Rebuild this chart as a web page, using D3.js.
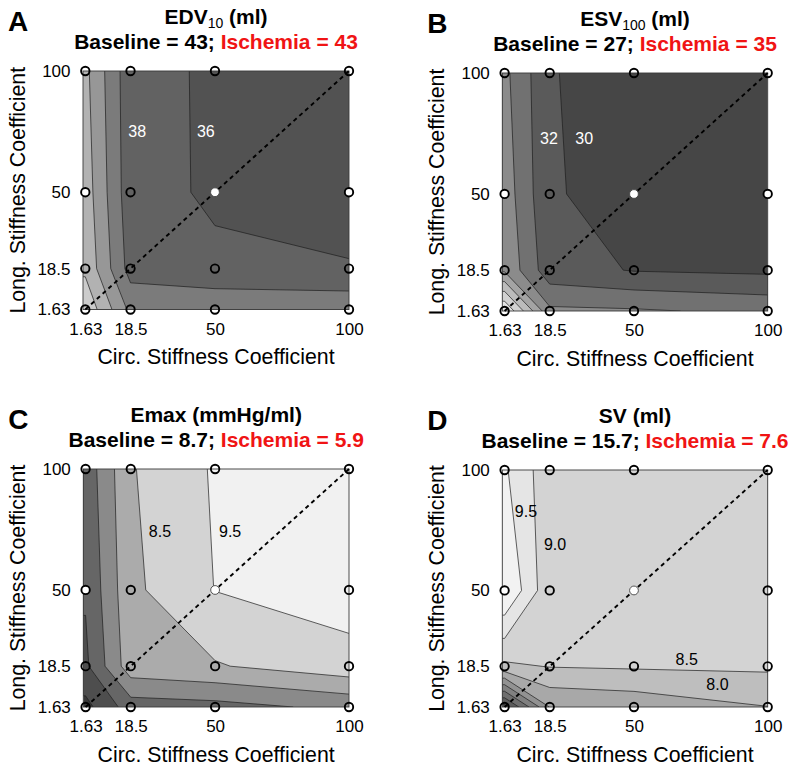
<!DOCTYPE html>
<html>
<head>
<meta charset="utf-8">
<script src="https://cdn.jsdelivr.net/npm/d3@7"></script>
<style>
  body { margin: 0; background: #fff; }
  svg { display: block; }
</style>
</head>
<body>
<svg id="chart" width="800" height="770"></svg>
<script>
// ---------------- DATA ----------------
const stiffness = [1.63, 18.5, 50, 100];
const tickLabels = ["1.63", "18.5", "50", "100"];

// grids: rows = Long. stiffness (1.63, 18.5, 50, 100); columns = Circ. stiffness (1.63, 18.5, 50, 100)
const edvGrid = [
  [45.6, 39.5, 39.7, 39.4],
  [43.6, 37.2, 36.36, 36.3],
  [43.07, 36.7, 35.72, 34.0],
  [42.52, 36.64, 35.72, 35.0]
];
const esvGrid = [
  [44.0, 34.4, 34.24, 33.55],
  [35.67, 30.76, 29.89, 29.6],
  [35.13, 30.2, 29.2, 28.3],
  [34.5, 30.2, 28.45, 28.0]
];
const emaxGrid = [
  [4.2, 6.0, 6.15, 6.75],
  [5.3, 8.09, 8.42, 9.13],
  [5.6, 8.28, 9.52, 9.99],
  [5.87, 8.42, 9.61, 10.1]
];
const svGrid = [
  [5.3, 7.52, 7.65, 7.99],
  [8.4, 8.52, 8.56, 8.585],
  [10.03, 8.62, 8.7, 8.75],
  [9.57, 8.67, 8.75, 8.8]
];

const edvLevels = [36, 38, 40, 42, 44];
const esvLevels = [30, 32, 34, 36, 38, 40, 42];
const emaxLevels = [4.5, 5.5, 6.5, 7.5, 8.5, 9.5];
const svLevels = [5.5, 6.0, 6.5, 7.0, 7.5, 8.0, 8.5, 9.0, 9.5];

const panelLetters = ["A", "B", "C", "D"];
const titleNames = ["EDV", "ESV", "Emax (mmHg/ml)", "SV (ml)"];
const titleSubs = ["10", "100", "", ""];
const titleUnits = [" (ml)", " (ml)", "", ""];
const baselineValues = ["43", "27", "8.7", "15.7"];
const ischemiaValues = ["43", "35", "5.9", "7.6"];

// contour labels [text, circ, long] in data units
const edvLabels = [["38", 21.0, 75.2], ["36", 46.6, 75.2]];
const esvLabels = [["32", 18.2, 73.0], ["30", 31.4, 73.0]];
const emaxLabels = [["8.5", 29.4, 74.1], ["9.5", 55.6, 74.1]];
const svLabels = [["9.5", 9.6, 82.7], ["9.0", 20.5, 69.2], ["8.5", 69.7, 21.6], ["8.0", 81.2, 11.0]];

// markers drawn filled white [circ, long]
const edvWhite = [[1.63, 50], [50, 50], [100, 50]];
const esvWhite = [[1.63, 50], [50, 50], [100, 50]];
const emaxWhite = [[1.63, 50], [50, 50]];
const svWhite = [[1.63, 50], [50, 50]];

// ---------------- STYLE / LAYOUT ----------------
const FONT = '"Liberation Sans", Arial, Helvetica, sans-serif';
const edvColors = ["#525252", "#626262", "#7b7b7b", "#979797", "#b2b2b2", "#cccccc"];
const esvColors = ["#464646", "#5a5a5a", "#717171", "#8b8b8b", "#a4a4a4", "#bcbcbc", "#d2d2d2", "#e4e4e4"];
const emaxColors = ["#383838", "#4e4e4e", "#666666", "#8a8a8a", "#ababab", "#d3d3d3", "#f1f1f1"];
const svColors = ["#4a4a4a", "#5c5c5c", "#6e6e6e", "#808080", "#929292", "#a8a8a8", "#bebebe", "#d3d3d3", "#e5e5e5", "#f2f2f2"];

const panels = [
  { grid: edvGrid, levels: edvLevels, colors: edvColors, labels: edvLabels, labelColor: "#ffffff", white: edvWhite, box: [83, 349, 71, 309.5] },
  { grid: esvGrid, levels: esvLevels, colors: esvColors, labels: esvLabels, labelColor: "#ffffff", white: esvWhite, box: [502.3, 767.7, 73, 311] },
  { grid: emaxGrid, levels: emaxLevels, colors: emaxColors, labels: emaxLabels, labelColor: "#000000", white: emaxWhite, box: [83.3, 349, 469, 707] },
  { grid: svGrid, levels: svLevels, colors: svColors, labels: svLabels, labelColor: "#000000", white: svWhite, box: [502.3, 767.7, 470, 707] }
];

const svg = d3.select("#chart");

panels.forEach((p, pi) => {
  const [L, R, T, B] = p.box;
  const x = d3.scaleLinear().domain([1.63, 100]).range([L + 2.3, R]);
  const y = d3.scaleLinear().domain([1.63, 100]).range([B, T]);
  const g = svg.append("g");
  const clipId = "clip" + pi;
  g.append("clipPath").attr("id", clipId)
    .append("rect").attr("x", L).attr("y", T).attr("width", R - L).attr("height", B - T);

  const n = stiffness.length, N = n + 2;
  const xs = stiffness.map(x), ys = stiffness.map(y);
  // edge-padded grid so the contour boundary falls outside the clipped box
  const flat = [];
  for (let j = 0; j < N; j++) for (let i = 0; i < N; i++) {
    const jj = Math.min(n - 1, Math.max(0, j - 1));
    const ii = Math.min(n - 1, Math.max(0, i - 1));
    flat.push(p.grid[jj][ii]);
  }
  const contours = d3.contours().size([N, N]).thresholds(p.levels)(flat);
  const mapPos = (pos, t) => {
    if (t <= 0) return pos[0] + t * (pos[1] - pos[0]);
    if (t >= n - 1) return pos[n - 1] + (t - n + 1) * (pos[n - 1] - pos[n - 2]);
    const i = Math.floor(t), f = t - i;
    return pos[i] + f * (pos[i + 1] - pos[i]);
  };
  const toPath = coords => coords.map(poly => poly.map(ring =>
    "M" + ring.map(([a, b]) => mapPos(xs, a - 1.5).toFixed(2) + "," + mapPos(ys, b - 1.5).toFixed(2)).join("L") + "Z"
  ).join("")).join("");

  const plot = g.append("g").attr("clip-path", `url(#${clipId})`);
  plot.append("rect").attr("x", L).attr("y", T).attr("width", R - L).attr("height", B - T)
    .attr("fill", p.colors[0]);
  plot.selectAll("path.band").data(contours).join("path").attr("class", "band")
    .attr("d", c => toPath(c.coordinates))
    .attr("fill", (c, i) => p.colors[i + 1])
    .attr("fill-rule", "evenodd");
  plot.selectAll("path.cline").data(contours).join("path").attr("class", "cline")
    .attr("d", c => toPath(c.coordinates))
    .attr("fill", "none")
    .attr("stroke", "#1e1e1e")
    .attr("stroke-width", 0.7);

  // frame
  g.append("rect").attr("x", L).attr("y", T).attr("width", R - L).attr("height", B - T)
    .attr("fill", "none").attr("stroke", "#3a3a3a").attr("stroke-width", 0.9);

  // diagonal
  g.append("line")
    .attr("x1", x(stiffness[0])).attr("y1", y(stiffness[0]))
    .attr("x2", x(stiffness[n - 1])).attr("y2", y(stiffness[n - 1]))
    .attr("stroke", "#000").attr("stroke-width", 1.9).attr("stroke-dasharray", "4.2,3.6");

  // contour labels
  g.selectAll("text.clab").data(p.labels).join("text").attr("class", "clab")
    .attr("x", d => x(d[1])).attr("y", d => y(d[2]))
    .attr("dy", "0.36em")
    .attr("text-anchor", "middle")
    .attr("font-family", FONT).attr("font-size", 16)
    .attr("fill", p.labelColor)
    .text(d => d[0]);

  // markers
  const pts = [];
  stiffness.forEach(cy => stiffness.forEach(cx => pts.push([cx, cy])));
  const isWhite = d => p.white.some(w => w[0] === d[0] && w[1] === d[1]);
  const isCenter = d => d[0] === 50 && d[1] === 50;
  g.selectAll("circle.pt").data(pts).join("circle").attr("class", "pt")
    .attr("cx", d => x(d[0])).attr("cy", d => y(d[1]))
    .attr("r", d => isCenter(d) ? 4.4 : 4.2)
    .attr("fill", d => isWhite(d) ? "#ffffff" : "none")
    .attr("stroke", d => isCenter(d) ? "#444" : "#000")
    .attr("stroke-width", d => isCenter(d) ? 0.9 : 1.9);

  // axes
  const xa = g.append("g").attr("transform", `translate(0,${B})`)
    .call(d3.axisBottom(x).tickValues(stiffness).tickFormat((d, i) => tickLabels[i]).tickSize(0).tickPadding(13));
  xa.select(".domain").remove();
  xa.attr("font-size", 17).attr("font-family", FONT);
  const ya = g.append("g").attr("transform", `translate(${L},0)`)
    .call(d3.axisLeft(y).tickValues(stiffness).tickFormat((d, i) => tickLabels[i]).tickSize(0).tickPadding(12.5));
  ya.select(".domain").remove();
  ya.attr("font-size", 17).attr("font-family", FONT);

  // axis titles
  g.append("text").attr("x", (L + R) / 2).attr("y", B + 54.5)
    .attr("text-anchor", "middle").attr("font-family", FONT).attr("font-size", 21.3)
    .text("Circ. Stiffness Coefficient");
  g.append("text").attr("transform", `translate(${L - 58},${(T + B) / 2}) rotate(-90)`)
    .attr("text-anchor", "middle").attr("font-family", FONT).attr("font-size", 21.3)
    .text("Long. Stiffness Coefficient");

  // titles
  const t1 = g.append("text").attr("x", (L + R) / 2).attr("y", T - 47)
    .attr("text-anchor", "middle").attr("font-family", FONT).attr("font-size", 21)
    .attr("font-weight", "bold");
  t1.append("tspan").text(titleNames[pi]);
  if (titleSubs[pi]) {
    t1.append("tspan").attr("font-size", 14).attr("font-weight", "normal").attr("dy", 3.5).text(titleSubs[pi]);
    t1.append("tspan").attr("dy", -3.5).text(titleUnits[pi]);
  }
  const t2 = g.append("text").attr("x", (L + R) / 2).attr("y", T - 21.7)
    .attr("text-anchor", "middle").attr("font-family", FONT).attr("font-size", 21)
    .attr("font-weight", "bold");
  t2.append("tspan").attr("fill", "#000").text(`Baseline = ${baselineValues[pi]}; `);
  t2.append("tspan").attr("fill", "#f01414").text(`Ischemia = ${ischemiaValues[pi]}`);

  // panel letter
  g.append("text").attr("x", L - 75).attr("y", T - 40)
    .attr("font-family", FONT).attr("font-size", 28).attr("font-weight", "bold")
    .text(panelLetters[pi]);
});
</script>
</body>
</html>
